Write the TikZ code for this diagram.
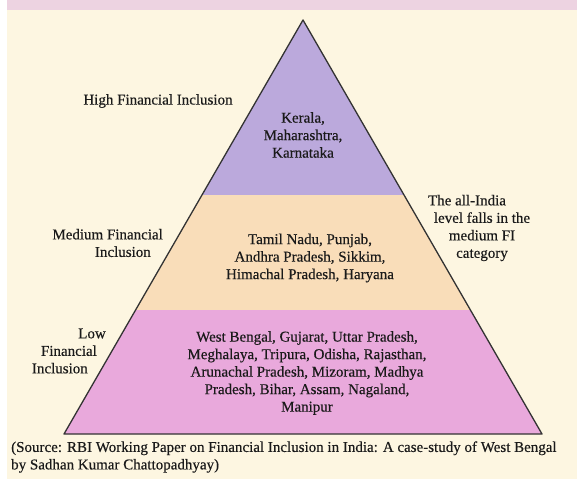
\documentclass[tikz,border=0pt]{standalone}
\usepackage{fontspec}
\setmainfont{Liberation Serif}[FakeBold=0.35]
\definecolor{bgcream}{HTML}{FDF6E1}
\definecolor{topband}{HTML}{EDD3E1}
\definecolor{lavender}{HTML}{BBA9DC}
\definecolor{peach}{HTML}{F9DDB9}
\definecolor{orchid}{HTML}{E9A9DC}
\definecolor{edge}{HTML}{333333}
\definecolor{ink}{HTML}{1A1A1A}
\tikzset{
  lbl/.style={font=\fontsize{15}{17.5}\selectfont, text=ink, inner sep=0pt},
}
\begin{document}
\begin{tikzpicture}[x=1pt,y=-1pt]
\useasboundingbox (0,0) rectangle (577,479);
\fill[white] (0,0) rectangle (577,479);
\fill[bgcream] (7,10) rectangle (577,479);
\fill[topband] (7,0) rectangle (577,10);
% pyramid
\coordinate (apex) at (303,20);
\coordinate (bl) at (64,434);
\coordinate (br) at (542,434);
\begin{scope}
  \clip (apex) -- (br) -- (bl) -- cycle;
  \fill[lavender] (0,0) rectangle (577,195);
  \fill[peach] (0,195) rectangle (577,310);
  \fill[orchid] (0,310) rectangle (577,440);
\end{scope}
\draw[edge, line width=1.3pt, line join=round] (apex) -- (br) -- (bl) -- cycle;
% labels
\node[lbl] (high) at (158,101) {High Financial Inclusion};
\node[lbl, align=center] (hightxt) at (303,135) {Kerala,\\Maharashtra,\\Karnataka};
\node[lbl, align=right, anchor=east] (med) at (163,243) {Medium Financial\\Inclusion\kern12pt};
\node[lbl, align=center] (medtxt) at (310,258) {Tamil Nadu, Punjab,\\Andhra Pradesh, Sikkim,\\Himachal Pradesh, Haryana};
\node[lbl, align=center] (allindia) at (482,228) {The all-India\kern30pt\\level falls in the\\medium FI\\category};
\node[lbl, align=right, anchor=east] (low) at (106,351) {Low\\Financial\kern9pt\\Inclusion\kern18pt};
\node[lbl, align=center] (lowtxt) at (307,373) {West Bengal, Gujarat, Uttar Pradesh,\\Meghalaya, Tripura, Odisha, Rajasthan,\\Arunachal Pradesh, Mizoram, Madhya\\Pradesh, Bihar, Assam, Nagaland,\\Manipur};
\node[lbl, align=left, anchor=west] (src) at (11,457) {(Source: RBI Working Paper on Financial Inclusion in India: A case-study of West Bengal\\by Sadhan Kumar Chattopadhyay)};
\end{tikzpicture}
\end{document}
